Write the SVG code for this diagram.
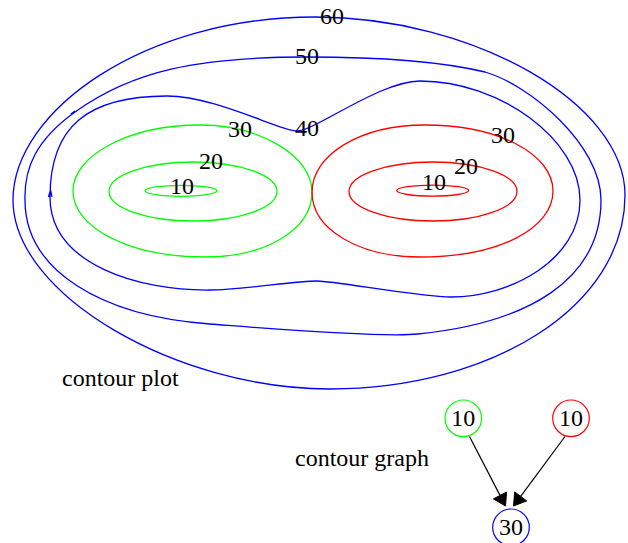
<svg xmlns="http://www.w3.org/2000/svg" width="628" height="543" viewBox="0 0 628 543">
  <style>
    .lbl { font-family: "Liberation Serif", "Times New Roman", serif; font-size: 24px; fill: #000; }
    .num { text-anchor: middle; }
    .c { fill: none; stroke-width: 1.3; }
    .g { stroke: #00ff00; }
    .r { stroke: #ff0000; }
    .b { stroke: #0000ff; }
    .node { fill: none; stroke-width: 1.2; }
    .edge { stroke: #000; stroke-width: 1.2; fill: none; }
    .head { fill: #000; stroke: #000; stroke-width: 1; }
  </style>

  <!-- contour plot -->
  <g id="contour-plot">
    <g id="level-60">
      <path class="c b" d="M13,200 C13,111 144,17 315,17 C475,17 625,104 625,195 C625,307 491,389 330,389 C177,389 13,295 13,200 Z"/>
      <text class="lbl num" x="332" y="24">60</text>
    </g>
    <g id="level-50">
      <path class="c b" d="M25,200 C24,168 36,140 75,112 C132,71 197,57 307,57 C367,57 435,60 485,72 C530,85 601,145 601,200 C601,280 528,323 418,334 C378,338 250,327 210,324 C100,316 25,270 25,200 Z M71,114 L75,111"/>
      <text class="lbl num" x="307" y="64">50</text>
    </g>
    <g id="level-40">
      <path class="c b" d="M50,197 C50,127 87,96 167,96 C215,96 280,131 297,131 C315,131 380,81 420,81 C500,81 580,140 580,200 C580,260 510,297 451,297 C420,297 335,281 317,281 C295,281 240,290 210,290 C140,291 50,265 50,197 Z M48.5,197 L50.5,190 L52,197"/>
      <text class="lbl num" x="307" y="136">40</text>
    </g>
    <g id="green-30">
      <path class="c g" d="M312,192 C312,155 258,125 200,125 C130,125 73,155 73,191 C73,228 130,257 205,257 C265,257 312,230 312,192 Z"/>
      <text class="lbl num" x="240" y="137">30</text>
    </g>
    <g id="green-20">
      <ellipse class="c g" cx="193" cy="191.5" rx="84" ry="29.5"/>
      <text class="lbl num" x="211" y="169">20</text>
    </g>
    <g id="green-10">
      <ellipse class="c g" cx="181" cy="190.8" rx="36" ry="5.5"/>
      <text class="lbl num" x="182" y="194">10</text>
    </g>
    <g id="red-30">
      <path class="c r" d="M312,192 C312,155 360,125 425,125 C500,125 553,155 553,191 C553,228 500,257 420,257 C360,257 312,230 312,192 Z"/>
      <text class="lbl num" x="503" y="143">30</text>
    </g>
    <g id="red-20">
      <ellipse class="c r" cx="433" cy="191.5" rx="84" ry="29.5"/>
      <text class="lbl num" x="466" y="174">20</text>
    </g>
    <g id="red-10">
      <ellipse class="c r" cx="432.7" cy="190.6" rx="36" ry="5.5"/>
      <text class="lbl num" x="434" y="190">10</text>
    </g>
    <text class="lbl" x="62" y="386">contour plot</text>
  </g>

  <!-- contour graph -->
  <text class="lbl" x="295" y="466">contour graph</text>

  <g id="connectors">
    <path class="edge" d="M469.5,436.5 L500,495.4"/>
    <polygon class="head" points="505.5,506 493.4,498.9 506.6,492"/>
    <path class="edge" d="M565,436.5 L520.7,496.4"/>
    <polygon class="head" points="513.5,506 514.7,491.9 526.7,500.9"/>
  </g>

  <g id="node-green-10">
    <circle class="node g" cx="463.3" cy="418.3" r="18.3"/>
    <text class="lbl num" x="463.3" y="426">10</text>
  </g>
  <g id="node-red-10">
    <circle class="node r" cx="571" cy="418.3" r="18.3"/>
    <text class="lbl num" x="571" y="426">10</text>
  </g>
  <g id="node-blue-30">
    <circle class="node b" cx="511" cy="527.3" r="18.3"/>
    <text class="lbl num" x="511" y="535">30</text>
  </g>
</svg>
